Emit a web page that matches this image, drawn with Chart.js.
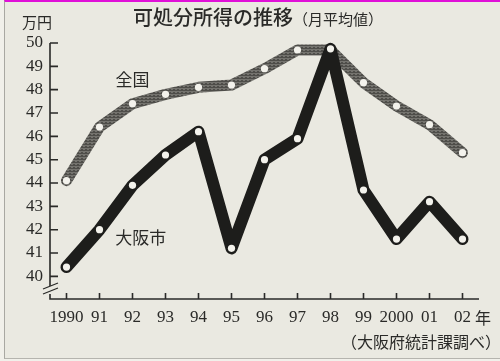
<!DOCTYPE html>
<html>
<head>
<meta charset="utf-8">
<script src="https://cdn.jsdelivr.net/npm/chart.js@4.4.1/dist/chart.umd.min.js"></script>
<style>
  html, body { margin: 0; padding: 0; background: #f1f0ea; }
  .paper {
    position: relative; width: 496px; height: 356px; margin-left: 4px;
    background: #eae9e1; border-top: 2px solid #e010d8; border-left: 1px solid #a9a8a2;
    border-bottom: 1px solid #b5b4ae; overflow: hidden;
  }
  canvas { position: absolute; left: -5px; top: -2px; }
  .txt { position: absolute; color: #2a2a28; font-family: "Noto Sans CJK JP", sans-serif; white-space: nowrap; }
  .title { left: 128px; top: 0px; font-size: 20px; font-weight: 500; }
  .title small { font-size: 15px; font-weight: 400; }
  .unit { left: 17px; top: 9px; font-size: 15px; }
  .nen { left: 470px; top: 303px; font-size: 16px; }
  .source { left: 336px; top: 327px; font-size: 16px; }
</style>
</head>
<body>
<div class="paper">
  <canvas id="myChart" width="500" height="361"></canvas>
  <div class="txt title">可処分所得の推移<small>（月平均値）</small></div>
  <div class="txt unit">万円</div>
  <div class="txt nen">年</div>
  <div class="txt source">（大阪府統計課調べ）</div>
</div>
<script>
const years = ['1990', '91', '92', '93', '94', '95', '96', '97', '98', '99', '2000', '01', '02'];
const zenkoku = [44.1, 46.4, 47.4, 47.8, 48.1, 48.2, 48.9, 49.7, 49.7, 48.3, 47.3, 46.5, 45.3];
const osaka = [40.4, 42.0, 43.9, 45.2, 46.2, 41.2, 45.0, 45.9, 49.75, 43.7, 41.6, 43.2, 41.6];
const yTicks = [40, 41, 42, 43, 44, 45, 46, 47, 48, 49, 50];
const seriesNames = ['全国', '大阪市'];

// screen-tone texture for the national line
function makeTone() {
    const pc = document.createElement('canvas');
    pc.width = 4; pc.height = 3;
    const c = pc.getContext('2d');
    c.fillStyle = '#74736e';
    c.fillRect(0, 0, 4, 3);
    c.fillStyle = '#4e4d49';
    c.fillRect(0, 0, 4, 1);
    c.fillRect(1, 2, 2, 1);
    return c.createPattern(pc, 'repeat');
}

// axes drawn by hand: inward ticks and the break mark on the y axis
const axisPlugin = {
    id: 'axisPlugin',
    afterDraw(chart) {
        const ctx = chart.ctx;
        const x = chart.scales.x, y = chart.scales.y;
        const left = chart.chartArea.left, bottom = chart.chartArea.bottom;
        ctx.save();
        ctx.strokeStyle = '#2a2a28';
        ctx.lineWidth = 1.6;
        ctx.beginPath();
        ctx.moveTo(left, y.getPixelForValue(50));
        ctx.lineTo(left, bottom - 13);
        ctx.moveTo(left, bottom - 5);
        ctx.lineTo(left, bottom);
        ctx.lineTo(chart.chartArea.right, bottom);
        yTicks.forEach(v => {
            const py = y.getPixelForValue(v);
            ctx.moveTo(left, py);
            ctx.lineTo(left + 8, py);
        });
        years.forEach((lab, i) => {
            const px = x.getPixelForValue(i);
            ctx.moveTo(px, bottom);
            ctx.lineTo(px, bottom - 6);
        });
        ctx.stroke();
        // break mark
        ctx.lineWidth = 1.3;
        ctx.beginPath();
        ctx.moveTo(left - 7, bottom - 10);
        ctx.lineTo(left + 8, bottom - 16);
        ctx.moveTo(left - 7, bottom - 5);
        ctx.lineTo(left + 8, bottom - 11);
        ctx.stroke();
        // series names
        ctx.fillStyle = '#2a2a28';
        ctx.font = '17px "Noto Sans CJK JP"';
        ctx.textAlign = 'center';
        ctx.textBaseline = 'middle';
        ctx.fillText(seriesNames[0], x.getPixelForValue(2), y.getPixelForValue(48.45));
        ctx.fillText(seriesNames[1], x.getPixelForValue(2.25), y.getPixelForValue(41.65));
        ctx.restore();
    }
};

const myChart = document.getElementById('myChart').getContext('2d');

new Chart(myChart, {
    type: 'line',
    data: {
        labels: years,
        datasets: [
            {
                label: seriesNames[1],
                data: osaka,
                order: 0,
                borderColor: '#1d1d1b',
                borderWidth: 12,
                borderJoinStyle: 'round',
                borderCapStyle: 'round',
                tension: 0,
                clip: false,
                pointRadius: 3.6,
                pointBorderWidth: 0,
                pointBackgroundColor: '#f3f2ec'
            },
            {
                label: seriesNames[0],
                data: zenkoku,
                order: 1,
                borderColor: makeTone(),
                borderWidth: 11,
                borderJoinStyle: 'round',
                borderCapStyle: 'round',
                tension: 0,
                clip: false,
                pointRadius: 3.6,
                pointBorderWidth: 0,
                pointBackgroundColor: '#f3f2ec'
            }
        ]
    },
    options: {
        responsive: false,
        animation: false,
        layout: { padding: { top: 43, right: 21, left: 5, bottom: 0 } },
        plugins: {
            legend: { display: false },
            tooltip: { enabled: false }
        },
        scales: {
            x: {
                offset: true,
                grid: { display: false, drawTicks: false },
                border: { display: false },
                ticks: {
                    color: '#2a2a28',
                    padding: 8,
                    maxRotation: 0,
                    autoSkip: false,
                    font: { family: '"Liberation Serif"', size: 17 }
                },
                afterFit(scale) { scale.height = 62; }
            },
            y: {
                min: 39.03,
                max: 50,
                grid: { display: false, drawTicks: false },
                border: { display: false },
                ticks: {
                    stepSize: 1,
                    includeBounds: false,
                    color: '#2a2a28',
                    padding: 7,
                    font: { family: '"Liberation Serif"', size: 17 },
                    callback: v => (v < 40 ? '' : v)
                },
                afterFit(scale) { scale.width = 45; }
            }
        }
    },
    plugins: [axisPlugin]
});
</script>
</body>
</html>
